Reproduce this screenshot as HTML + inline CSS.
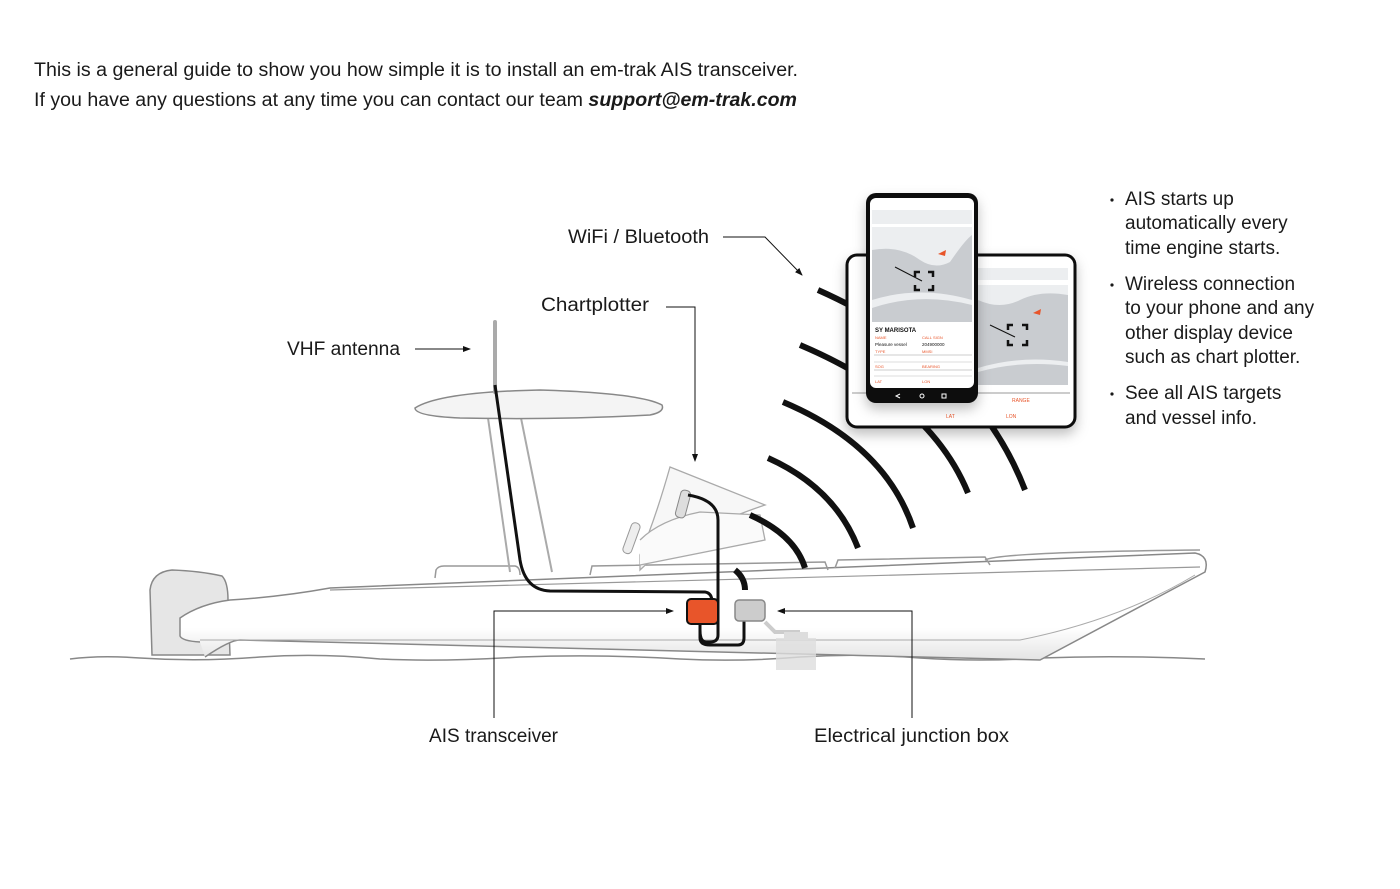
<!DOCTYPE html>
<html><head><meta charset="utf-8"><style>
html,body{margin:0;padding:0;background:#fff;}
body{width:1400px;height:889px;overflow:hidden;position:relative;font-family:"Liberation Sans","DejaVu Sans",sans-serif;}
svg{position:absolute;left:0;top:0;}
</style></head><body>
<svg width="1400" height="889" viewBox="0 0 1400 889" xmlns="http://www.w3.org/2000/svg" font-family="Liberation Sans, DejaVu Sans, sans-serif">
<defs>
<marker id="ah" markerWidth="8" markerHeight="8" refX="7" refY="4" orient="auto" markerUnits="userSpaceOnUse"><path d="M0,1 L8,4 L0,7 Z" fill="#111"/></marker>
<filter id="sh" x="-20%" y="-20%" width="140%" height="150%"><feDropShadow dx="0" dy="6" stdDeviation="6" flood-opacity="0.25"/></filter>
<linearGradient id="hg" x1="0" y1="0" x2="0" y2="1"><stop offset="0" stop-color="#fff"/><stop offset="0.7" stop-color="#fff"/><stop offset="1" stop-color="#e4e4e4"/></linearGradient>
</defs>

<text x="34" y="76" font-size="19" fill="#1a1a1a" textLength="764" lengthAdjust="spacingAndGlyphs">This is a general guide to show you how simple it is to install an em-trak AIS transceiver.</text>
<text x="34" y="106" font-size="19" fill="#1a1a1a" textLength="763" lengthAdjust="spacingAndGlyphs">If you have any questions at any time you can contact our team <tspan font-weight="bold" font-style="italic">support@em-trak.com</tspan></text>

<!-- waterline -->
<path d="M70,659 Q100,655 140,658 Q200,662 260,657 Q320,653 380,659 Q440,662 520,657 Q600,654 680,659 Q740,662 800,657 Q860,653 920,658 Q980,662 1040,658 Q1120,655 1205,659" fill="none" stroke="#888" stroke-width="1.5"/>

<!-- outboard -->
<path d="M152,655 L150,590 Q152,572 172,570 Q200,571 222,576 Q228,582 228,600 L230,655 Z" fill="#e6e6e6" stroke="#888" stroke-width="1.5"/>
<!-- hull -->
<path d="M205,657 Q230,640 240,640 L1040,660 L1205,572 Q1210,556 1195,553 L330,588 Q280,597 230,600 Q200,604 180,618 L180,636 Q182,641 200,642" fill="url(#hg)" stroke="#888" stroke-width="1.5"/>
<path d="M330,590 L1200,567" stroke="#999" stroke-width="1.2" fill="none"/>
<path d="M200,640 L1020,640 Q1120,620 1195,575" stroke="#aaa" stroke-width="1" fill="none"/>
<!-- rails -->
<path d="M435,578 L436,570 Q438,566 444,566 L515,566 Q520,567 520,575 M590,575 L592,566 L825,562 L828,570 M835,568 L838,560 L985,557 L990,565" fill="none" stroke="#999" stroke-width="1.5"/>
<path d="M985,560 Q1000,552 1200,550" fill="none" stroke="#999" stroke-width="1.5"/>

<!-- T-top posts -->
<path d="M488,418 L510,572 M521,418 L552,572" stroke="#aaa" stroke-width="2" fill="none"/>
<!-- canopy -->
<path d="M415,408 Q440,392 540,390 Q640,393 662,405 Q665,412 650,415 Q560,420 460,418 Q415,416 415,408 Z" fill="#f4f4f4" stroke="#888" stroke-width="1.5"/>
<!-- antenna -->
<line x1="495" y1="322" x2="495" y2="392" stroke="#aaa" stroke-width="4" stroke-linecap="round"/>

<!-- console -->
<path d="M670,467 L765,505 Q720,520 690,538 Q660,550 640,570 L640,555 Q655,520 670,467 Z" fill="#f7f7f7" stroke="#aaa" stroke-width="1.3"/>
<path d="M640,540 Q660,520 700,512 L760,515 L765,540 L640,565" fill="#fafafa" stroke="#aaa" stroke-width="1.3"/>
<rect x="678" y="490" width="10" height="28" rx="4" fill="#ddd" stroke="#888" transform="rotate(15 683 504)"/>
<rect x="627" y="522" width="9" height="32" rx="4" fill="#eee" stroke="#999" transform="rotate(20 631 538)"/>

<!-- signal arcs -->
<g fill="none" stroke="#111" stroke-width="6">
<path d="M735,570 Q745,578 745,590"/>
<path d="M750,515 Q795,535 805,568"/>
<path d="M768,458 Q835,488 858,548"/>
<path d="M783,402 Q885,445 913,528"/>
<path d="M800,345 Q930,400 968,493"/>
<path d="M818,290 Q975,360 1025,490"/>
</g>

<!-- cables -->
<path d="M495,385 L520,560 Q525,590 550,591 L705,592 Q712,593 712,602" fill="none" stroke="#111" stroke-width="3"/>
<path d="M688,495 Q718,500 718,520 L718,635 Q718,642 710,642 L706,642 Q700,642 700,630 L700,620" fill="none" stroke="#111" stroke-width="3"/>
<path d="M700,625 L700,638 Q700,645 710,645 L738,645 Q744,645 744,638 L744,620" fill="none" stroke="#111" stroke-width="3"/>
<!-- battery -->
<path d="M765,622 L775,632 L800,632" stroke="#ccc" stroke-width="4" fill="none"/>
<rect x="776" y="638" width="40" height="32" fill="#ddd" opacity="0.8"/>
<rect x="784" y="632" width="24" height="8" fill="#ddd"/>
<!-- AIS box -->
<rect x="687" y="599" width="31" height="25" rx="4" fill="#e8552a" stroke="#111" stroke-width="2"/>
<!-- junction box -->
<rect x="735" y="600" width="30" height="21" rx="4" fill="#ccc" stroke="#888" stroke-width="1.5"/>

<!-- tablet -->
<g filter="url(#sh)">
<rect x="847" y="255" width="228" height="172" rx="10" fill="#fff" stroke="#111" stroke-width="3"/>
</g>
<rect x="978" y="285" width="90" height="100" fill="#c9ccd0"/>
<path d="M978,300 Q1000,310 1020,300 Q1040,290 1068,295 L1068,285 L978,285 Z" fill="#eceef0"/>
<path d="M978,368 Q1020,355 1068,362 L1068,366 Q1020,360 978,372 Z" fill="#eceef0"/>
<rect x="978" y="268" width="90" height="12" fill="#eceef0"/>
<line x1="852" y1="393" x2="1070" y2="393" stroke="#999"/>
<text x="1012" y="402" font-size="5" fill="#e8552a">RANGE</text>
<text x="946" y="418" font-size="5" fill="#e8552a">LAT</text>
<text x="1006" y="418" font-size="5" fill="#e8552a">LON</text>
<path d="M1008,330 L1008,325 L1013,325 M1022,325 L1027,325 L1027,330 M1027,340 L1027,345 L1022,345 M1013,345 L1008,345 L1008,340" stroke="#111" stroke-width="2.5" fill="none"/>
<line x1="990" y1="325" x2="1015" y2="337" stroke="#111" stroke-width="1"/>
<path d="M1033,313 L1041,309 L1040,315 Z" fill="#e8552a"/>
<!-- phone -->
<g filter="url(#sh)">
<rect x="866" y="193" width="112" height="210" rx="10" fill="#111"/>
</g>
<rect x="870" y="198" width="104" height="190" rx="6" fill="#fff"/>
<rect x="872" y="210" width="100" height="14" fill="#eceef0"/>
<rect x="872" y="227" width="100" height="95" fill="#c9ccd0"/>
<path d="M872,250 Q900,245 920,260 Q935,270 950,262 Q965,240 972,235 L972,227 L872,227 Z" fill="#eceef0"/>
<path d="M872,300 Q920,285 972,300 L972,305 Q920,292 872,308 Z" fill="#eceef0"/>
<path d="M915,277 L915,272 L920,272 M928,272 L933,272 L933,277 M933,285 L933,290 L928,290 M920,290 L915,290 L915,285" stroke="#111" stroke-width="2.5" fill="none"/>
<line x1="895" y1="267" x2="922" y2="281" stroke="#111" stroke-width="1"/>
<path d="M938,254 L946,250 L945,256 Z" fill="#e8552a"/>
<text x="875" y="332" font-size="6" font-weight="bold" fill="#111">SY MARISOTA</text>
<g font-size="4" fill="#e8552a"><text x="875" y="339">NAME</text><text x="922" y="339">CALL SIGN</text><text x="875" y="353">TYPE</text><text x="922" y="353">MMSI</text><text x="875" y="368">SOG</text><text x="922" y="368">BEARING</text><text x="875" y="383">LAT</text><text x="922" y="383">LON</text></g>
<g font-size="4.5" fill="#111"><text x="875" y="346">Pleasure vessel</text><text x="922" y="346">204900000</text></g>
<line x1="874" y1="355" x2="972" y2="355" stroke="#999" stroke-width="0.6"/>
<line x1="874" y1="370" x2="972" y2="370" stroke="#999" stroke-width="0.6"/>
<line x1="874" y1="362" x2="972" y2="362" stroke="#bbb" stroke-width="0.6"/>
<line x1="874" y1="376" x2="972" y2="376" stroke="#bbb" stroke-width="0.6"/>
<g fill="none" stroke="#fff" stroke-width="1"><path d="M900,394 L896,396 L900,398"/><circle cx="922" cy="396" r="2"/><rect x="942" y="394" width="4" height="4"/></g>

<!-- labels -->
<g font-size="19" fill="#1a1a1a">
<text x="568" y="243" textLength="141" lengthAdjust="spacingAndGlyphs">WiFi / Bluetooth</text>
<text x="541" y="311" textLength="108" lengthAdjust="spacingAndGlyphs">Chartplotter</text>
<text x="287" y="355" textLength="113" lengthAdjust="spacingAndGlyphs">VHF antenna</text>
<text x="429" y="742" textLength="129" lengthAdjust="spacingAndGlyphs">AIS transceiver</text>
<text x="814" y="742" textLength="195" lengthAdjust="spacingAndGlyphs">Electrical junction box</text>
</g>
<g stroke="#111" stroke-width="1" fill="none">
<path d="M723,237 L765,237 L802,275" marker-end="url(#ah)"/>
<path d="M666,307 L695,307 L695,461" marker-end="url(#ah)"/>
<path d="M415,349 L470,349" marker-end="url(#ah)"/>
<path d="M494,718 L494,611 L673,611" marker-end="url(#ah)"/>
<path d="M912,718 L912,611 L778,611" marker-end="url(#ah)"/>
</g>

<!-- bullets -->
<g font-size="19" fill="#1a1a1a">
<circle cx="1112" cy="200" r="1.6"/>
<text x="1125" y="205">AIS starts up</text>
<text x="1125" y="229">automatically every</text>
<text x="1125" y="254">time engine starts.</text>
<circle cx="1112" cy="285" r="1.6"/>
<text x="1125" y="290">Wireless connection</text>
<text x="1125" y="314">to your phone and any</text>
<text x="1125" y="339">other display device</text>
<text x="1125" y="363">such as chart plotter.</text>
<circle cx="1112" cy="394" r="1.6"/>
<text x="1125" y="399">See all AIS targets</text>
<text x="1125" y="424">and vessel info.</text>
</g>
</svg>
</body></html>
